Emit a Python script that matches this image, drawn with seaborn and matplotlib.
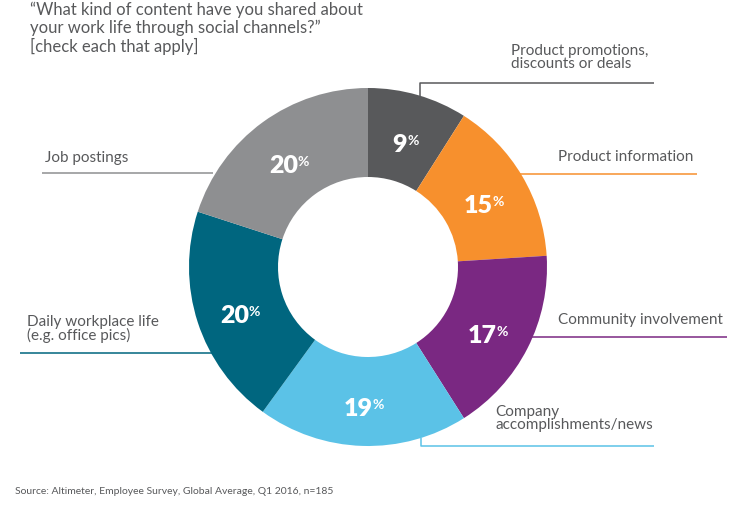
import numpy as np
import seaborn as sns
import matplotlib.pyplot as plt

# Survey shares (clockwise from the top)
categories = ['Product promotions,\ndiscounts or deals', 'Product information',
              'Community involvement', 'Company\naccomplishments/news',
              'Daily workplace life\n(e.g. office pics)', 'Job postings']
values = [9, 15, 17, 19, 20, 20]
colors = ['#58595b', '#f7902d', '#7a2882', '#5bc2e7', '#00667f', '#8e8f91']

title = '\u201cWhat kind of content have you shared about\nyour work life through social channels?\u201d\n[check each that apply]'
source = 'Source: Altimeter, Employee Survey, Global Average, Q1 2016, n=185'

# layout (pixel coords, y from the top)
W, H = 750, 511
cx, cy, r_out, r_in = 368, 267, 179, 90
label_pos = [(511, 44, 'top'), (558, 157, 'center'), (558, 320, 'center'),
             (495, 405, 'top'), (27, 315, 'top'), (45, 158, 'center')]
leaders = [[(420, 96), (420, 83), (654, 83)],
           [(520, 174), (697, 174)],
           [(532, 337), (727, 337)],
           [(421, 438), (421, 446), (654, 446)],
           [(215, 353), (20, 353)],
           [(213, 173), (42, 173)]]

sns.set_theme(style='white')
plt.rcParams['font.family'] = ['Lato', 'DejaVu Sans']
text_col = '#58595b'


def Y(y):
    return H - y


fig = plt.figure(figsize=(W / 100, H / 100), dpi=100)
ax = fig.add_axes([0, 0, 1, 1])
ax.pie(values, colors=colors, startangle=90, counterclock=False,
       radius=r_out, center=(cx, Y(cy)),
       wedgeprops=dict(width=r_out - r_in, linewidth=0))
ax.set_xlim(0, W)
ax.set_ylim(0, H)
ax.axis('off')

# percent labels in the middle of each ring segment
cum = np.cumsum([0] + values)
r_mid = (r_out + r_in) / 2
pairs = []
for i, v in enumerate(values):
    ang = np.deg2rad(90 - (cum[i] + v / 2) / cum[-1] * 360)
    mx = cx + r_mid * np.cos(ang)
    base = Y(cy) + r_mid * np.sin(ang) - 14.5
    tn = ax.text(mx, base, f'{v}', color='white', fontsize=18, fontweight='heavy',
                 ha='left', va='baseline')
    tp = ax.text(mx, base + 7, '%', color='white', fontsize=10, fontweight='bold',
                 ha='left', va='baseline')
    pairs.append((mx, base, tn, tp))

fig.canvas.draw()
for mx, base, tn, tp in pairs:
    wn = tn.get_window_extent().width
    wp = tp.get_window_extent().width
    x0 = mx - (wn + wp) / 2
    tn.set_position((x0, base))
    tp.set_position((x0 + wn, base + 7))

# category labels with leader lines
for lab, (lx, ly, va), pts, c in zip(categories, label_pos, leaders, colors):
    ax.text(lx, Y(ly), lab, color=text_col, fontsize=11, ha='left', va=va,
            linespacing=0.92)
    xs = [p[0] for p in pts]
    ys = [Y(p[1]) for p in pts]
    ax.plot(xs, ys, color=c, lw=1.1, solid_capstyle='butt')

ax.text(30, Y(2), title, color=text_col, fontsize=12, ha='left', va='top',
        linespacing=1.1)
ax.text(15, Y(492), source, color=text_col, fontsize=7.5, ha='left', va='center')

fig.savefig('out.png', dpi=100)
